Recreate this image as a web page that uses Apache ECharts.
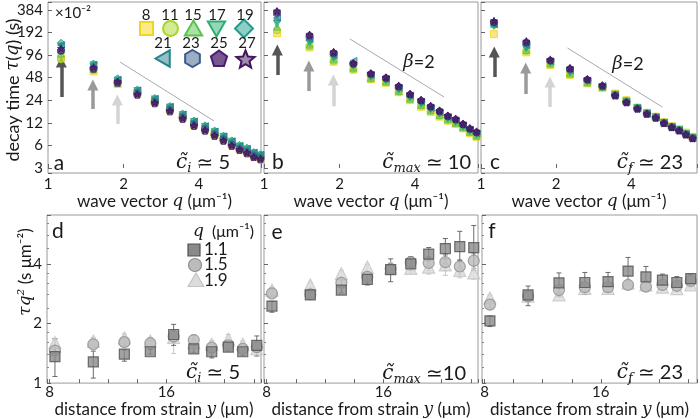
<!DOCTYPE html>
<html><head><meta charset="utf-8">
<script src="https://cdn.jsdelivr.net/npm/echarts@6/dist/echarts.min.js"></script>
<style>html,body{margin:0;padding:0;background:#fff}#c{width:700px;height:419px}</style>
</head><body><div id="c"></div>
<script>
const FONT = "Lato, 'Noto Sans', 'DejaVu Sans', sans-serif";
const SERIF = "'DejaVu Serif', serif";
const INK = '#1a1a1a';

// ---------- top row: decay time tau(q), units 1e-2 s ----------
const q = [1.127, 1.519, 1.895, 2.272, 2.666, 3.063, 3.444, 3.821, 4.230, 4.617, 5.010, 5.405, 5.808, 6.215, 6.616, 7.035];
const strainLabels = ['8','11','15','17','19','21','23','25','27'];
const yTopTickLabels = ['3','6','12','24','48','96','192','384'];
const xTopTickLabels = ['1','2','4'];

const tauA8  = [88, 58, 39.5, 29.2, 22.5, 17.6, 13.9, 11.2, 9.7, 8.3, 7.1, 6.1, 5.3, 4.8, 4.3, 4.0];
const tauA11 = [84, 60, 40, 29.5, 22.7, 17.8, 14.1, 11.3, 9.8, 8.3, 7.2, 6.2, 5.4, 4.9, 4.3, 4.1];
const tauA15 = [100, 63, 41, 30.4, 23.4, 18.3, 14.5, 11.7, 10.1, 8.6, 7.4, 6.35, 5.54, 5.05, 4.47, 4.2];
const tauA17 = [125, 70, 44, 31.9, 24.6, 19.2, 15.2, 12.3, 10.6, 9.0, 7.8, 6.7, 5.8, 5.3, 4.7, 4.4];
const tauA19 = [140, 74, 47, 33.4, 25.7, 20.1, 16.0, 12.9, 11.1, 9.5, 8.1, 7.0, 6.1, 5.6, 4.9, 4.6];
const tauA21 = [130, 71, 45, 32.5, 25.0, 19.6, 15.5, 12.5, 10.8, 9.2, 7.9, 6.8, 5.9, 5.4, 4.8, 4.5];
const tauA23 = [108, 64, 42, 29.8, 22.9, 17.9, 14.2, 11.5, 9.9, 8.4, 7.3, 6.2, 5.4, 4.9, 4.4, 4.1];
const tauA25 = [112, 63, 41, 28.3, 21.8, 17.0, 13.5, 10.9, 9.4, 8.0, 6.9, 5.9, 5.2, 4.7, 4.2, 3.9];
const tauA27 = [118, 66, 42.5, 28.9, 22.2, 17.4, 13.8, 11.1, 9.6, 8.2, 7.0, 6.0, 5.3, 4.8, 4.2, 4.0];

const tauB8  = [187, 121, 78, 61, 45.5, 41, 30.6, 24.1, 19.6, 16.8, 14.5, 12.8, 11.6, 10.1, 8.7, 7.8];
const tauB11 = [205, 125, 80, 62, 46, 41.5, 31, 24.5, 20.1, 17.1, 14.8, 13, 11.8, 10.3, 8.9, 7.9];
const tauB15 = [230, 132, 84, 65, 47.5, 42.5, 32, 25.2, 20.8, 17.6, 15.3, 13.4, 12.0, 10.5, 9.1, 8.1];
const tauB17 = [250, 140, 88, 68, 49, 44, 33, 26, 21.5, 18.1, 15.8, 13.7, 12.3, 10.7, 9.3, 8.3];
const tauB19 = [280, 150, 92, 72, 50.5, 45, 34, 26.8, 22.2, 18.6, 16.2, 14, 12.6, 10.9, 9.5, 8.5];
const tauB21 = [300, 155, 95, 80, 52, 46, 35, 27.5, 22.8, 19, 16.6, 14.3, 12.9, 11.1, 9.7, 8.7];
const tauB23 = [340, 168, 100, 73, 53.5, 47, 36, 28.3, 23.5, 19.5, 17, 14.6, 13.2, 11.4, 9.9, 8.9];
const tauB25 = [363, 177, 104, 74, 54.5, 48, 37, 29, 24.1, 20, 17.4, 14.9, 13.5, 11.6, 10.1, 9.1];
const tauB27 = [370, 180, 106, 75, 55, 48.5, 37.5, 29.2, 24.3, 20.2, 17.5, 15, 13.6, 11.7, 10.2, 9.2];

const tauC8  = [182, 104, 70.6, 52, 40.3, 35, 29.5, 24, 19, 16.3, 14.5, 12.2, 10.8, 9.9, 8.9, 7.8];
const tauC11 = [255, 108, 72, 53, 41, 35.5, 29, 23.6, 18.9, 16.2, 14.4, 12.1, 10.7, 9.7, 8.7, 7.7];
const tauC15 = [250, 112, 74, 54.5, 41.5, 36, 28.5, 23.3, 19.2, 16.1, 14.3, 12.1, 10.7, 9.7, 8.6, 7.6];
const tauC17 = [240, 118, 76, 56, 42.5, 36, 28.3, 23, 19, 16, 14.2, 12, 10.6, 9.6, 8.5, 7.6];
const tauC19 = [235, 124, 77.5, 58, 43.5, 36.5, 28, 22.9, 18.8, 16, 14.2, 12, 10.6, 9.6, 8.5, 7.6];
const tauC21 = [245, 130, 79, 60, 44, 37, 28, 22.7, 18.6, 15.9, 14.1, 11.9, 10.5, 9.5, 8.4, 7.5];
const tauC23 = [260, 138, 81, 62, 45, 37.1, 28, 22.6, 18.7, 15.9, 14.1, 11.9, 10.5, 9.5, 8.4, 7.5];
const tauC25 = [266, 144, 82, 63.7, 45.5, 37.5, 27.8, 22.5, 18.5, 15.8, 14.0, 11.9, 10.5, 9.5, 8.4, 7.5];
const tauC27 = [275, 147, 84, 64.5, 46, 38, 27.5, 22.4, 18.4, 15.8, 14.0, 11.8, 10.4, 9.4, 8.3, 7.4];

// arrows (q, tail tau, head tau) and beta=2 guide lines (q, tau)
const arrowsA = [[1.13, 26.5, 77.4], [1.51, 18.3, 38.2], [1.89, 11.6, 24.1]];
const arrowsB = [[1.13, 52, 112], [1.51, 31.8, 68.5], [1.89, 20.0, 44.5]];
const arrowsC = [[1.13, 49, 105], [1.51, 29, 64.3], [1.89, 19.5, 42]];
const betaA = [[1.937, 77.4], [4.59, 12.7]];
const betaB = [[2.20, 157], [5.22, 26.5]];
const betaC = [[2.22, 119], [5.32, 19.5]];

// ---------- bottom row: tau*q^2 vs distance ----------
const dist = [8.36, 10.99, 13.12, 14.9, 16.5, 17.88, 19.11, 20.25, 21.24, 22.2];
const qLegend = ['1.1', '1.5', '1.9'];
const xBotTickLabels = ['8', '16'];
const yBotTickLabels = ['1', '2', '4'];

const dSq   = [1.36, 1.28, 1.40, 1.44, 1.76, 1.49, 1.44, 1.52, 1.44, 1.55];
const dSqLo = [1.08, 1.06, 1.29, 1.40, 1.55, 1.43, 1.34, 1.46, 1.38, 1.37];
const dSqHi = [1.67, 1.45, 1.47, 1.48, 1.98, 1.55, 1.52, 1.58, 1.50, 1.73];
const dCi   = [1.46, 1.57, 1.61, 1.59, 1.72, 1.65, 1.51, 1.55, 1.49, 1.52];
const dCiLo = [1.41, 1.51, 1.55, 1.54, 1.60, 1.58, 1.46, 1.49, 1.44, 1.46];
const dCiHi = [1.51, 1.63, 1.67, 1.64, 1.84, 1.75, 1.57, 1.62, 1.55, 1.60];
const dTr   = [1.60, 1.63, 1.69, 1.63, 1.70, 1.60, 1.57, 1.67, 1.57, 1.49];
const dTrLo = [1.54, 1.57, 1.62, 1.57, 1.41, 1.53, 1.50, 1.58, 1.51, 1.42];
const dTrHi = [1.68, 1.70, 1.77, 1.70, 1.85, 1.68, 1.64, 1.76, 1.63, 1.56];

const eSq   = [2.45, 2.79, 2.95, 3.34, 3.74, 4.00, 4.48, 4.78, 4.89, 4.83];
const eSqLo = [2.28, 2.70, 2.85, 3.13, 3.25, 3.70, 4.15, 4.23, 4.15, 3.71];
const eSqHi = [2.59, 2.88, 3.06, 3.53, 4.24, 4.35, 4.84, 5.37, 5.84, 6.25];
const eCi   = [2.84, 2.81, 3.21, 3.44, 3.78, 4.08, 4.04, 4.08, 3.88, 4.15];
const eCiLo = [2.74, 2.72, 3.10, 3.32, 3.60, 3.85, 3.70, 3.70, 3.55, 3.80];
const eCiHi = [2.94, 2.90, 3.32, 3.56, 3.95, 4.30, 4.35, 4.45, 4.20, 4.50];
const eTr   = [2.95, 3.13, 3.57, 3.85, 3.82, 3.80, 3.85, 3.95, 3.71, 3.60];
const eTrLo = [2.85, 3.03, 3.45, 3.72, 3.60, 3.60, 3.55, 3.50, 3.40, 3.35];
const eTrHi = [3.05, 3.23, 3.69, 3.98, 4.05, 4.00, 4.15, 4.40, 4.10, 3.90];

const fSq   = [2.06, 2.79, 3.21, 3.22, 3.25, 3.68, 3.44, 3.31, 3.22, 3.37];
const fSqLo = [1.93, 2.46, 2.74, 2.80, 2.90, 3.13, 3.01, 3.05, 3.00, 3.15];
const fSqHi = [2.18, 3.09, 3.60, 3.62, 3.62, 4.31, 3.88, 3.55, 3.45, 3.55];
const fCi   = [2.49, 2.75, 2.95, 3.05, 3.05, 3.13, 3.07, 3.13, 3.10, 3.28];
const fCiLo = [2.40, 2.65, 2.85, 2.95, 2.95, 3.02, 2.97, 3.03, 3.00, 3.18];
const fCiHi = [2.58, 2.85, 3.05, 3.15, 3.15, 3.24, 3.17, 3.23, 3.20, 3.38];
const fTr   = [2.69, 2.75, 2.79, 3.01, 3.01, 3.20, 3.13, 3.05, 3.00, 3.13];
const fTrLo = [2.60, 2.60, 2.70, 2.85, 2.90, 3.10, 3.03, 2.95, 2.90, 3.03];
const fTrHi = [2.78, 2.90, 2.88, 3.17, 3.12, 3.30, 3.23, 3.15, 3.10, 3.23];

// ---------- styling ----------
const COLORS = ['#f2d51c', '#a9d62a', '#5cc24f', '#2fae72', '#1f9e89', '#26828e', '#3b5b8e', '#4b1d6e', '#44155f'];
function rgba(hex, a) {
  const n = parseInt(hex.slice(1), 16);
  return 'rgba(' + ((n >> 16) & 255) + ',' + ((n >> 8) & 255) + ',' + (n & 255) + ',' + a + ')';
}
const HEX = 'path://M8.66,-5 L8.66,5 L0,10 L-8.66,5 L-8.66,-5 L0,-10 Z';
const PENT = 'path://M0,-10 L9.51,-3.09 L5.88,8.09 L-5.88,8.09 L-9.51,-3.09 Z';
const STAR = 'path://M0,-10 L2.35,-3.24 L9.51,-3.09 L3.8,1.24 L5.88,8.09 L0,4 L-5.88,8.09 L-3.8,1.24 L-9.51,-3.09 L-2.35,-3.24 Z';
const SYM = [['rect', 0], ['circle', 0], ['triangle', 0], ['triangle', 180], ['diamond', 0], ['triangle', 90], [HEX, 0], [PENT, 0], [STAR, 0]];
const L2 = v => Math.log2(v / 3);

const topData = [
  [tauA8, tauA11, tauA15, tauA17, tauA19, tauA21, tauA23, tauA25, tauA27],
  [tauB8, tauB11, tauB15, tauB17, tauB19, tauB21, tauB23, tauB25, tauB27],
  [tauC8, tauC11, tauC15, tauC17, tauC19, tauC21, tauC23, tauC25, tauC27]
];
const topArrows = [arrowsA, arrowsB, arrowsC];
const topBeta = [betaA, betaB, betaC];
const arrowColors = ['#555555', '#9a9a9a', '#d4d4d4'];

const grids = [
  {left: 48, top: 2, width: 213, height: 171},
  {left: 264, top: 2, width: 214, height: 171},
  {left: 481, top: 2, width: 217, height: 171},
  {left: 47, top: 215, width: 214, height: 172},
  {left: 264, top: 215, width: 214, height: 172},
  {left: 482, top: 215, width: 216, height: 172}
].map(g => Object.assign({show: true, borderColor: '#9a9a9a', borderWidth: 1, backgroundColor: '#fff', containLabel: false}, g));

const tickStyle = {inside: true, length: 4, lineStyle: {color: '#666', width: 1}};
const labelStyle = {fontFamily: FONT, fontSize: 15, color: INK};
const nameStyle = {fontFamily: FONT, fontSize: 17, color: INK, rich: {i: {fontFamily: SERIF, fontStyle: 'italic', fontSize: 17, color: INK}}};
const near = (v, t) => Math.abs(v - t) < 1e-6;

const qMax = [7.07, 7.13, 7.33];
const dMax = [22.49, 22.49, 22.63];
const xAxis = [], yAxis = [];
for (let i = 0; i < 3; i++) {
  xAxis.push({
    type: 'log', logBase: 2, gridIndex: i, min: 1, max: qMax[i],
    axisLine: {show: false}, splitLine: {show: false}, axisTick: tickStyle,
    axisLabel: Object.assign({margin: 4, formatter: v => {
      const k = xTopTickLabels.find(s => near(v, +s)); return k || ''; }}, labelStyle),
    name: 'wave vector {i|q} (μm⁻¹)', nameLocation: 'middle', nameGap: 18, nameTextStyle: nameStyle
  });
  yAxis.push({
    type: 'value', gridIndex: i, min: -0.221, max: 7.345, minInterval: 1, maxInterval: 1,
    axisLine: {show: false}, splitLine: {show: false}, axisTick: tickStyle,
    axisLabel: Object.assign({show: i === 0, margin: 5, formatter: v => {
      const r = Math.round(v); return near(v, r) && yTopTickLabels[r] ? yTopTickLabels[r] : ''; }}, labelStyle)
  });
}
for (let j = 0; j < 3; j++) {
  xAxis.push({
    type: 'value', gridIndex: 3 + j, min: 7.815, max: dMax[j], minInterval: 2, maxInterval: 2,
    axisLine: {show: false}, splitLine: {show: false}, axisTick: tickStyle,
    axisLabel: Object.assign({margin: 2, formatter: v => {
      const k = xBotTickLabels.find(s => near(v, +s)); return k || ''; }}, labelStyle),
    name: 'distance from strain {i|y} (μm)', nameLocation: 'middle', nameGap: 11, nameTextStyle: nameStyle
  });
  yAxis.push({
    type: 'log', logBase: 2, gridIndex: 3 + j, min: 1, max: 7.06,
    axisLine: {show: false}, splitLine: {show: false}, axisTick: tickStyle,
    minorTick: {show: true, splitNumber: 5, length: 2, lineStyle: {color: '#888'}},
    axisLabel: Object.assign({show: j === 0, margin: 5, fontSize: 16, formatter: v => {
      const k = yBotTickLabels.find(s => near(v, +s)); return k || ''; }}, labelStyle)
  });
}

const series = [];
for (let p = 0; p < 3; p++) {
  // beta = 2 guide
  series.push({type: 'line', xAxisIndex: p, yAxisIndex: p, silent: true, showSymbol: false, symbol: 'none',
    lineStyle: {color: '#a9a9b6', width: 1}, z: 1,
    data: topBeta[p].map(d => [d[0], L2(d[1])])});
  // arrows
  topArrows[p].forEach((a, k) => {
    series.push({type: 'lines', coordinateSystem: 'cartesian2d', xAxisIndex: p, yAxisIndex: p, silent: true, z: 1,
      symbol: ['none', 'triangle'], symbolSize: 11,
      lineStyle: {color: arrowColors[k], width: 3.5, opacity: 1},
      data: [{coords: [[a[0], L2(a[1])], [a[0], L2(a[2])]]}]});
  });
  // data
  topData[p].forEach((arr, k) => {
    series.push({type: 'scatter', name: strainLabels[k], xAxisIndex: p, yAxisIndex: p, silent: true,
      symbol: SYM[k][0], symbolRotate: SYM[k][1], symbolSize: 7, z: 3 + k,
      itemStyle: {color: rgba(COLORS[k], 0.7), borderColor: COLORS[k], borderWidth: 1},
      data: q.map((x, i) => [x, L2(arr[i])])});
  });
}

const botData = [
  [[dTr, dTrLo, dTrHi], [dCi, dCiLo, dCiHi], [dSq, dSqLo, dSqHi]],
  [[eTr, eTrLo, eTrHi], [eCi, eCiLo, eCiHi], [eSq, eSqLo, eSqHi]],
  [[fTr, fTrLo, fTrHi], [fCi, fCiLo, fCiHi], [fSq, fSqLo, fSqHi]]
];
const botStyle = [
  {name: qLegend[2], symbol: 'triangle', size: 12, fill: '#dcdcdc', stroke: '#c4c4c4', err: '#c8c8c8'},
  {name: qLegend[1], symbol: 'circle', size: 11, fill: '#bcbcbc', stroke: '#8e8e8e', err: '#9e9e9e'},
  {name: qLegend[0], symbol: 'rect', size: 10, fill: '#8a8a8a', stroke: '#505050', err: '#6a6a6a'}
];
function errSeries(g, lo, hi, color) {
  return {type: 'custom', xAxisIndex: g, yAxisIndex: g, silent: true, z: 1,
    encode: {x: 0, y: [1, 2]},
    data: dist.map((d, i) => [d, lo[i], hi[i]]),
    renderItem: (params, api) => {
      const x = api.value(0);
      const a = api.coord([x, api.value(1)]), b = api.coord([x, api.value(2)]);
      const w = 2.5, st = {stroke: color, lineWidth: 1};
      return {type: 'group', children: [
        {type: 'line', shape: {x1: a[0], y1: a[1], x2: b[0], y2: b[1]}, style: st},
        {type: 'line', shape: {x1: a[0] - w, y1: a[1], x2: a[0] + w, y2: a[1]}, style: st},
        {type: 'line', shape: {x1: b[0] - w, y1: b[1], x2: b[0] + w, y2: b[1]}, style: st}
      ]};
    }};
}
for (let j = 0; j < 3; j++) {
  const g = 3 + j;
  botData[j].forEach((set, k) => {
    const s = botStyle[k];
    series.push(errSeries(g, set[1], set[2], s.err));
  });
  botData[j].forEach((set, k) => {
    const s = botStyle[k];
    series.push({type: 'scatter', name: s.name, xAxisIndex: g, yAxisIndex: g, silent: true, z: 3 + k,
      symbol: s.symbol, symbolSize: s.size,
      itemStyle: {color: s.fill, borderColor: s.stroke, borderWidth: 1.2},
      data: dist.map((d, i) => [d, set[0][i]])});
  });
}

// ---------- graphics: legends, labels, annotations ----------
function regPoly(cx, cy, r, n, a0) {
  const pts = [];
  for (let i = 0; i < n; i++) { const a = a0 + i * 2 * Math.PI / n; pts.push([cx + r * Math.cos(a), cy + r * Math.sin(a)]); }
  return pts;
}
function starPts(cx, cy, R, r) {
  const pts = [];
  for (let i = 0; i < 10; i++) { const a = -Math.PI / 2 + i * Math.PI / 5; const rr = i % 2 ? r : R; pts.push([cx + rr * Math.cos(a), cy + rr * Math.sin(a)]); }
  return pts;
}
const PI = Math.PI;
function legendShape(k, cx, cy) {
  const style = {fill: rgba(COLORS[k], k === 7 ? 0.75 : 0.5), stroke: COLORS[k], lineWidth: 2};
  let shape;
  switch (k) {
    case 0: return {type: 'rect', shape: {x: cx - 6.5, y: cy - 6.5, width: 13, height: 13}, style};
    case 1: return {type: 'circle', shape: {cx, cy, r: 7.5}, style};
    case 2: shape = regPoly(cx, cy + 2, 10, 3, -PI / 2); break;
    case 3: shape = regPoly(cx, cy - 2, 10, 3, PI / 2); break;
    case 4: shape = regPoly(cx, cy, 9, 4, -PI / 2); break;
    case 5: shape = regPoly(cx + 2, cy, 9.5, 3, PI); break;
    case 6: shape = regPoly(cx, cy, 8.5, 6, -PI / 2); break;
    case 7: shape = regPoly(cx, cy + 0.5, 8.5, 5, -PI / 2); break;
    default: shape = starPts(cx, cy + 1, 9.5, 4.2);
  }
  return {type: 'polygon', shape: {points: shape}, style};
}
const legendPos = [[146.5, 28.5], [170.5, 28.5], [193.5, 28.5], [216.5, 28.5], [244, 28.5],
                   [163, 58.5], [192.5, 58.5], [219, 58.5], [245.5, 59]];
const legendTextPos = [[146, 15], [170, 15], [193, 15], [217, 15], [245, 15],
                       [163, 43], [191, 43], [219, 43], [247, 43]];
const graphic = [];
strainLabels.forEach((lab, k) => {
  graphic.push(legendShape(k, legendPos[k][0], legendPos[k][1]));
  graphic.push({type: 'text', x: legendTextPos[k][0], y: legendTextPos[k][1],
    style: {text: lab, fontFamily: FONT, fontSize: 15, fill: INK, align: 'center', verticalAlign: 'middle'}});
});
graphic.push({type: 'text', x: 55, y: 13, style: {text: '×10⁻²', fontFamily: FONT, fontSize: 15, fill: INK, align: 'left', verticalAlign: 'middle'}});

// bottom legend
graphic.push({type: 'text', x: 193, y: 232, style: {text: '{i|q}  (μm⁻¹)', fontFamily: FONT, fontSize: 16, fill: INK, align: 'left', verticalAlign: 'middle',
  rich: {i: {fontFamily: SERIF, fontStyle: 'italic', fontSize: 17, fill: INK}}}});
graphic.push({type: 'rect', shape: {x: 188, y: 244, width: 12, height: 12}, style: {fill: '#8a8a8a', stroke: '#505050', lineWidth: 1.2}});
graphic.push({type: 'circle', shape: {cx: 195, cy: 265, r: 6.5}, style: {fill: '#bcbcbc', stroke: '#8e8e8e', lineWidth: 1.2}});
graphic.push({type: 'polygon', shape: {points: regPoly(196, 282, 9, 3, -PI / 2)}, style: {fill: '#dcdcdc', stroke: '#c4c4c4', lineWidth: 1.2}});
[[qLegend[0], 250], [qLegend[1], 265], [qLegend[2], 281]].forEach(t => {
  graphic.push({type: 'text', x: 204, y: t[1], style: {text: t[0], fontFamily: FONT, fontSize: 17, fill: INK, align: 'left', verticalAlign: 'middle'}});
});

// panel letters
[['a', 59, 163], ['b', 278, 162], ['c', 495, 162], ['d', 58, 231], ['e', 277, 232], ['f', 492, 231]].forEach(t => {
  graphic.push({type: 'text', x: t[1], y: t[2], style: {text: t[0], fontFamily: FONT, fontSize: 21, fill: INK, align: 'center', verticalAlign: 'middle'}});
});
// c-tilde annotations
[[230, 163, 'i', ' ≃ 5'], [471, 163, 'max', ' ≃ 10'], [683, 163, 'f', ' ≃ 23'],
 [240, 373, 'i', ' ≃ 5'], [466, 374, 'max', ' ≃10'], [683, 373, 'f', ' ≃ 23']].forEach(t => {
  graphic.push({type: 'text', x: t[0], y: t[1], style: {
    text: '{c|c\u0303}{s|' + t[2] + '}{t|' + t[3] + '}', align: 'right', verticalAlign: 'middle',
    rich: {
      c: {fontFamily: SERIF, fontStyle: 'italic', fontSize: 20, fill: INK, lineHeight: 24},
      s: {fontFamily: SERIF, fontStyle: 'italic', fontSize: 13, fill: INK, verticalAlign: 'bottom', lineHeight: 24},
      t: {fontFamily: FONT, fontSize: 20, fill: INK, lineHeight: 24}
    }}});
});
// beta = 2
[[419, 62], [628, 64]].forEach(t => {
  graphic.push({type: 'text', x: t[0], y: t[1], style: {text: '{b|β}{t|=2}', align: 'center', verticalAlign: 'middle',
    rich: {b: {fontFamily: SERIF, fontStyle: 'italic', fontSize: 18, fill: INK}, t: {fontFamily: FONT, fontSize: 18, fill: INK}}}});
});
// y axis titles
graphic.push({type: 'text', x: 13, y: 90, rotation: PI / 2, style: {
  text: '{r|decay time }{i|τ}{r|(}{i|q}{r|) (s)}', align: 'center', verticalAlign: 'middle',
  rich: {r: {fontFamily: FONT, fontSize: 18, fill: INK}, i: {fontFamily: SERIF, fontStyle: 'italic', fontSize: 18, fill: INK}}}});
graphic.push({type: 'text', x: 26, y: 272, rotation: PI / 2, style: {
  text: '{i|τq²}{r| (s μm⁻²)}', align: 'center', verticalAlign: 'middle',
  rich: {r: {fontFamily: FONT, fontSize: 17, fill: INK}, i: {fontFamily: SERIF, fontStyle: 'italic', fontSize: 17, fill: INK}}}});

const chart = echarts.init(document.getElementById('c'), null, {renderer: 'canvas'});
chart.setOption({
  animation: false,
  backgroundColor: '#fff',
  grid: grids, xAxis, yAxis, series, graphic
});
</script></body></html>
